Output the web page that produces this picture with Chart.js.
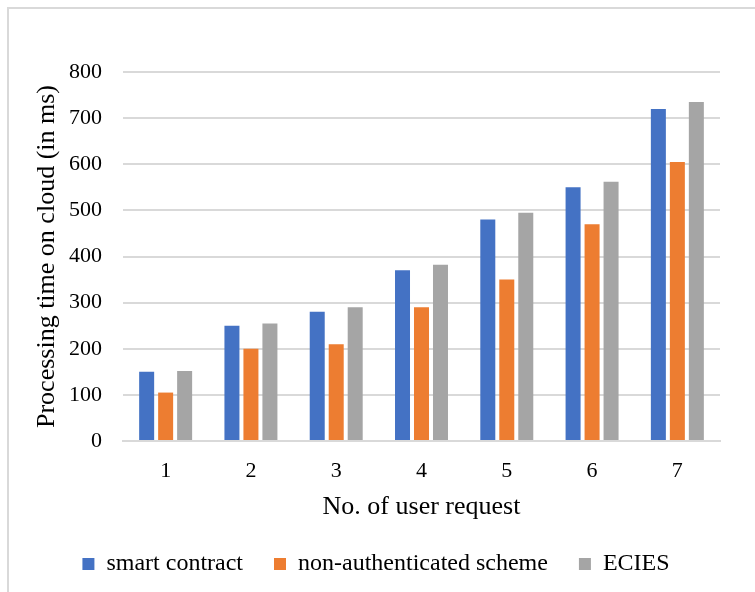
<!DOCTYPE html>
<html>
<head>
<meta charset="utf-8">
<script src="https://cdn.jsdelivr.net/npm/chart.js@4.4.1/dist/chart.umd.min.js"></script>
<style>
  html, body { margin: 0; padding: 0; background: #ffffff; }
  #wrap { position: relative; width: 755px; height: 592px; overflow: hidden; }
  #frame { position: absolute; left: 7px; top: 7px; width: 800px; height: 700px;
           border: 2px solid #d9d9d9; box-sizing: border-box; }
  canvas { position: absolute; left: 0; top: 0; }
</style>
</head>
<body>
<div id="wrap">
  <div id="frame"></div>
  <canvas id="chart" width="755" height="592"></canvas>
</div>
<script>
// Request counts on the x axis
const requests = ['1', '2', '3', '4', '5', '6', '7'];

// Processing time on the cloud (ms) per scheme
const smartContract = [150, 250, 280, 370, 480, 550, 720];
const nonAuthenticated = [105, 200, 210, 290, 350, 470, 605];
const ecies = [152, 255, 290, 382, 495, 562, 735];

const seriesNames = ['smart contract', 'non-authenticated scheme', 'ECIES'];
const seriesColors = ['#4472C4', '#ED7D31', '#A5A5A5'];

Chart.defaults.font.family = '"Liberation Serif", "Times New Roman", serif';
Chart.defaults.color = '#000000';

const seriesData = [smartContract, nonAuthenticated, ecies];

new Chart(document.getElementById('chart'), {
  type: 'bar',
  data: {
    labels: requests,
    datasets: seriesData.map((values, i) => ({
      label: seriesNames[i],
      data: values,
      backgroundColor: seriesColors[i],
      borderWidth: 0,
      categoryPercentage: 0.668,
      barPercentage: 0.79
    }))
  },
  options: {
    responsive: false,
    animation: false,
    layout: { padding: { left: 32, right: 35, top: 72, bottom: 6 } },
    plugins: {
      tooltip: { enabled: false },
      legend: {
        position: 'bottom',
        labels: {
          boxWidth: 12,
          boxHeight: 12,
          padding: 31,
          font: { size: 24 }
        }
      }
    },
    scales: {
      x: {
        grid: { display: false, drawTicks: false },
        border: { color: '#d9d9d9', width: 2 },
        ticks: { font: { size: 22 }, padding: 17 },
        title: {
          display: true,
          text: 'No. of user request',
          font: { size: 26 },
          padding: { top: 0, bottom: -2 }
        },
        afterFit(scale) { scale.height = 80; }
      },
      y: {
        min: 0,
        max: 800,
        ticks: { stepSize: 100, font: { size: 22 }, padding: 21 },
        grid: { color: '#d9d9d9', lineWidth: 2, drawTicks: false },
        border: { display: false },
        title: {
          display: true,
          text: 'Processing time on cloud (in ms)',
          font: { size: 26 },
          padding: { top: 0, bottom: 6 }
        },
        afterFit(scale) { scale.width = 91; }
      }
    }
  }
});
</script>
</body>
</html>
